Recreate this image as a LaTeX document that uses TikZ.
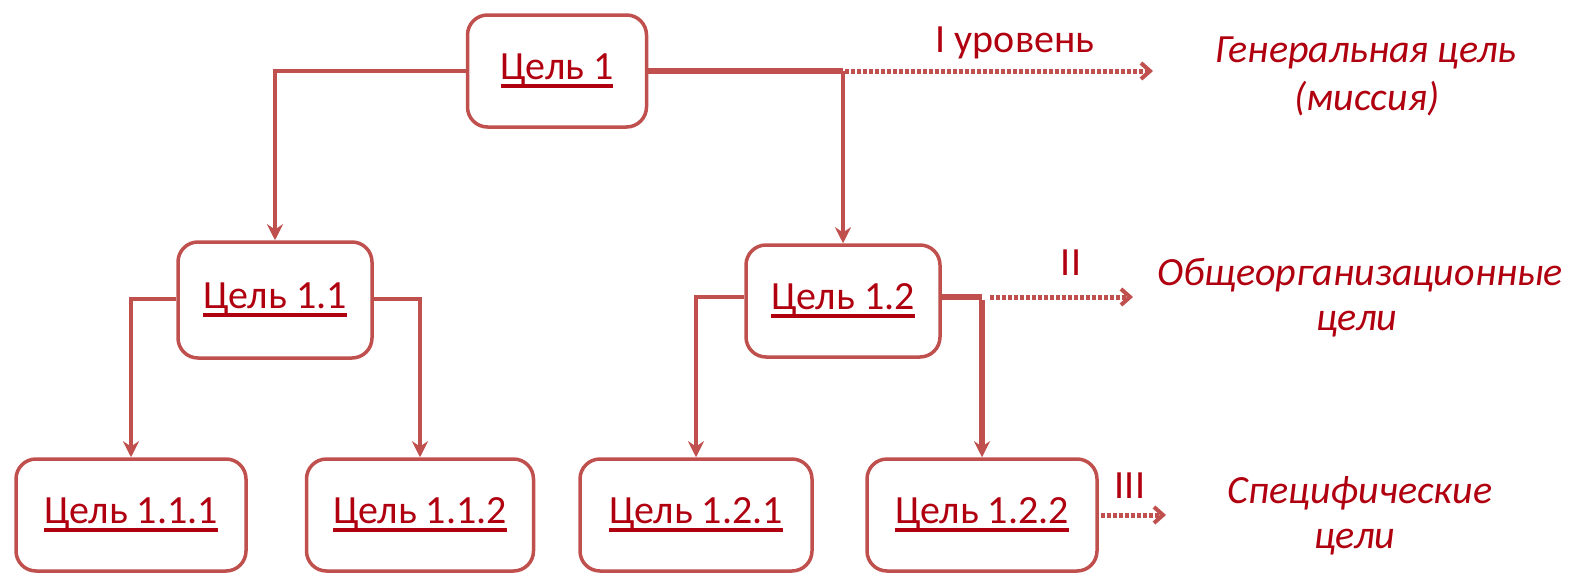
\documentclass[tikz,border=0pt]{standalone}
\usepackage{fontspec}
\setmainfont{Carlito}
\usetikzlibrary{arrows.meta}
\definecolor{linecol}{RGB}{192,80,77}
\definecolor{txtcol}{RGB}{176,0,16}
\newcommand\ulx[1]{\setbox0\hbox{#1}\rlap{\rule[-9pt]{\wd0}{4pt}}\box0}
\tikzset{
  goal/.style={draw=linecol, line width=3.5pt, rounded corners=20pt, fill=white,
    text=txtcol, font=\fontsize{40}{44}\selectfont, inner sep=0pt},
  conn/.style={draw=linecol, line width=3.5pt, -{Stealth[length=16pt,width=16pt]}},
  thickconn/.style={draw=linecol, line width=5.5pt},
  dotarrow/.style={draw=linecol, line width=5pt, dash pattern=on 4pt off 2pt,
    -{Straight Barb[length=9pt,width=16pt,line width=4pt]}},
  lvl/.style={text=txtcol, font=\fontsize{40}{44}\selectfont, inner sep=0pt, anchor=base},
  desc/.style={text=txtcol, font=\fontsize{40}{44}\selectfont\itshape, inner sep=0pt, anchor=base},
}
\begin{document}
\begin{tikzpicture}[x=1pt,y=-1pt]
\useasboundingbox (0,0) rectangle (1572,573);
% nodes
\node[goal, minimum width=179pt, minimum height=112pt] (n1) at (557,71) {\ulx{Цель 1}};
\node[goal, minimum width=194pt, minimum height=116pt] (n11) at (275,300) {\ulx{Цель 1.1}};
\node[goal, minimum width=194pt, minimum height=112pt] (n12) at (843,301) {\ulx{Цель 1.2}};
\node[goal, minimum width=230pt, minimum height=112pt] (n111) at (131,515) {\ulx{Цель 1.1.1}};
\node[goal, minimum width=227pt, minimum height=112pt] (n112) at (420,515) {\ulx{Цель 1.1.2}};
\node[goal, minimum width=232pt, minimum height=112pt] (n121) at (696,515) {\ulx{Цель 1.2.1}};
\node[goal, minimum width=230pt, minimum height=112pt] (n122) at (982,515) {\ulx{Цель 1.2.2}};
% junction coordinates
\coordinate (c1) at (843,71);
\coordinate (c2) at (982,297);
\coordinate (e1) at (1153,71);
\coordinate (e2) at (1133,297);
\coordinate (e3) at (1166,515);
% connectors
\draw[conn] (n1.west) -| (n11.north);
\draw[thickconn] (n1.east) -- (c1);
\draw[conn] (c1) -- (n12.north);
\draw[dotarrow] ([xshift=2pt]c1) -- (e1);
\draw[conn] (n11.west |- 0,299) -| (n111.north);
\draw[conn] (n11.east |- 0,299) -| (n112.north);
\draw[conn] (n12.west |- c2) -| (n121.north);
\draw[thickconn] (n12.east |- c2) -- (c2);
\draw[thickconn, -{Stealth[length=16pt,width=16pt]}] ([yshift=-2.5pt]c2) -- (n122.north);
\draw[dotarrow] ([xshift=8pt]c2) -- (e2);
\draw[dotarrow] ([xshift=2pt]n122.east |- e3) -- (e3);
% level labels
\node[lvl] (l1) at (1015,52) {I уровень};
\node[lvl] (l2) at (1071,275) {II};
\node[lvl] (l3) at (1130,498) {III};
% descriptions
\node[desc] (d1a) at (1366,62) {Генеральная цель};
\node[desc] (d1b) at (1367,110) {(миссия)};
\node[desc] (d2a) at (1360,285) {Общеорганизационные};
\node[desc] (d2b) at (1357,330) {цели};
\node[desc] (d3a) at (1360,503) {Специфические};
\node[desc] (d3b) at (1355,548) {цели};
\end{tikzpicture}
\end{document}
